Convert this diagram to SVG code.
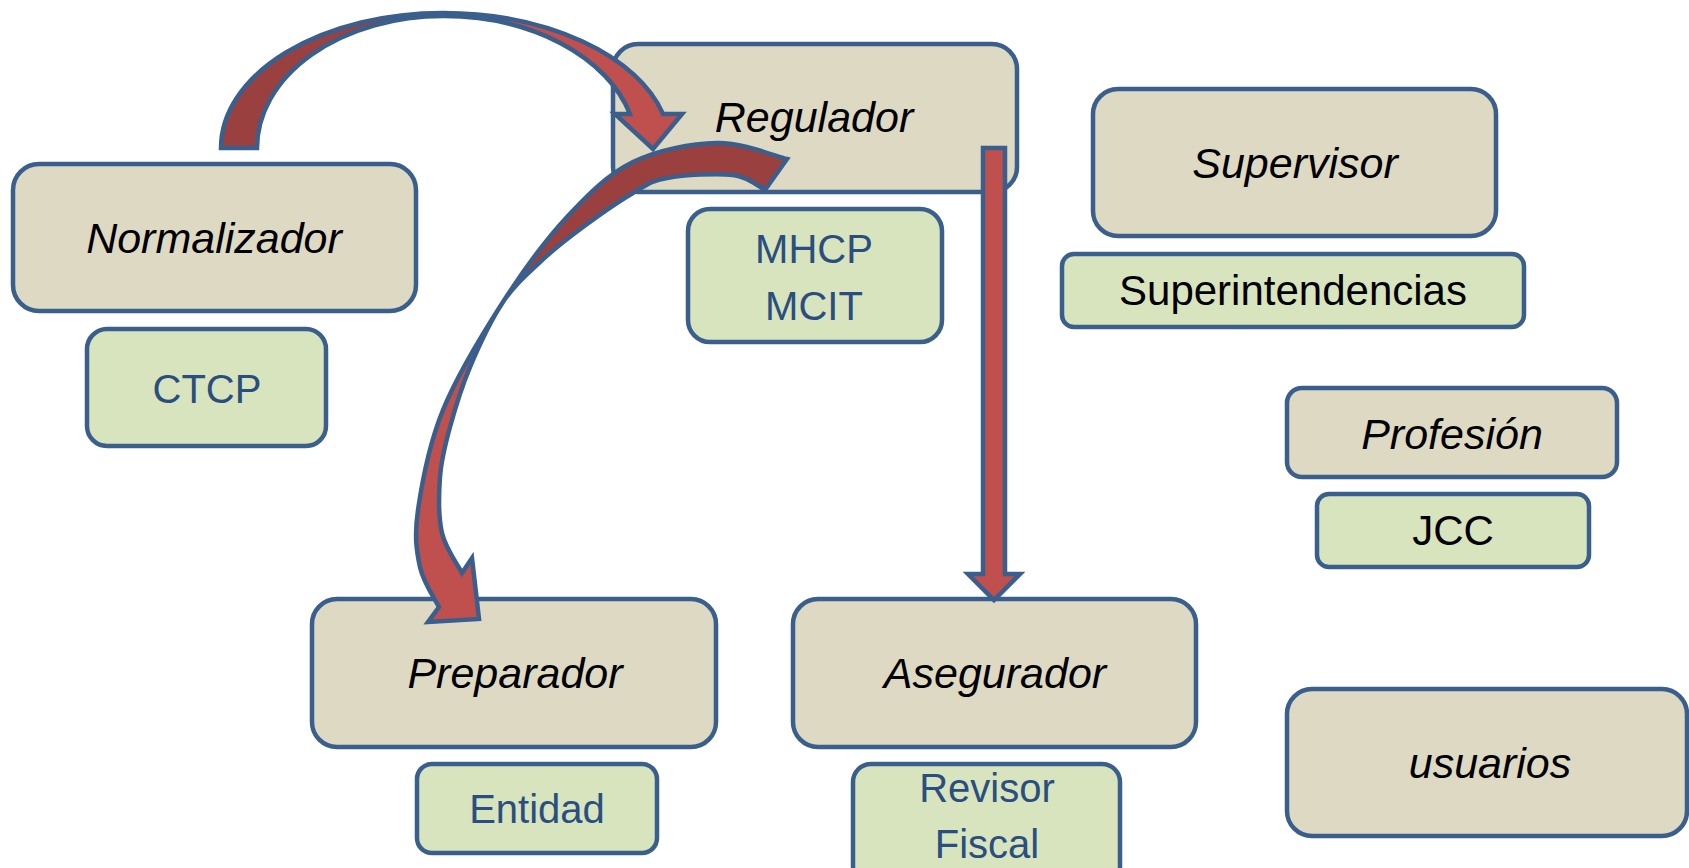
<svg xmlns="http://www.w3.org/2000/svg" width="1689" height="868" viewBox="0 0 1689 868">
  <style>
    .main { fill: #DDD9C3; stroke: #3A5F8D; stroke-width: 4.5; }
    .sub { fill: #D7E4BD; stroke: #3A5F8D; stroke-width: 4.5; }
    .lbl { font-family: "Liberation Sans", Arial, sans-serif; font-style: italic; font-size: 43px; fill: #000; text-anchor: middle; }
    .sl { font-family: "Liberation Sans", Arial, sans-serif; font-size: 40px; fill: #2A4E7F; text-anchor: middle; }
    .sk { font-family: "Liberation Sans", Arial, sans-serif; font-size: 42px; fill: #000; text-anchor: middle; }
    .fL { fill: #C0504D; stroke: none; }
    .fD { fill: #9A403E; stroke: none; }
    .ol { fill: none; stroke: #3A5F8D; stroke-width: 4.5; stroke-linejoin: miter; }
    .arL { fill: #C0504D; stroke: #3A5F8D; stroke-width: 4.5; stroke-linejoin: miter; }
  </style>
  <rect width="1689" height="868" fill="#FFFFFF"/>

  <g id="normalizador">
    <rect class="main" x="13" y="164" width="403" height="147" rx="26"/>
    <text class="lbl" x="214" y="253" font-size="44">Normalizador</text>
  </g>
  <g id="ctcp">
    <rect class="sub" x="87" y="329" width="239" height="117" rx="20"/>
    <text class="sl" x="207" y="403" font-size="36">CTCP</text>
  </g>
  <g id="regulador">
    <rect class="main" x="613" y="44" width="404" height="148" rx="25"/>
    <text class="lbl" x="814" y="132">Regulador</text>
  </g>
  <g id="mhcp-mcit">
    <rect class="sub" x="688" y="209" width="254" height="133" rx="22"/>
    <text class="sl" x="814" y="263">MHCP</text>
    <text class="sl" x="814" y="320">MCIT</text>
  </g>
  <g id="supervisor">
    <rect class="main" x="1093" y="89" width="403" height="147" rx="25"/>
    <text class="lbl" x="1295" y="178">Supervisor</text>
  </g>
  <g id="superintendencias">
    <rect class="sub" x="1062" y="254" width="462" height="73" rx="12"/>
    <text class="sk" x="1293" y="305" font-size="43">Superintendencias</text>
  </g>
  <g id="profesion">
    <rect class="main" x="1287" y="388" width="330" height="89" rx="15"/>
    <text class="lbl" x="1452" y="449" font-size="42">Profesión</text>
  </g>
  <g id="jcc">
    <rect class="sub" x="1317" y="494" width="272" height="73" rx="12"/>
    <text class="sk" x="1453" y="545" font-size="37">JCC</text>
  </g>
  <g id="usuarios">
    <rect class="main" x="1287" y="689" width="400" height="147" rx="25"/>
    <text class="lbl" x="1490" y="778" font-size="42">usuarios</text>
  </g>
  <g id="preparador">
    <rect class="main" x="312" y="599" width="404" height="148" rx="25"/>
    <text class="lbl" x="515" y="688">Preparador</text>
  </g>
  <g id="entidad">
    <rect class="sub" x="417" y="764" width="240" height="89" rx="15"/>
    <text class="sl" x="537" y="823" font-size="42">Entidad</text>
  </g>
  <g id="asegurador">
    <rect class="main" x="793" y="599" width="403" height="148" rx="25"/>
    <text class="lbl" x="995" y="688">Asegurador</text>
  </g>
  <g id="revisor-fiscal">
    <rect class="sub" x="853" y="764" width="267" height="120" rx="18"/>
    <text class="sl" x="987" y="802" font-size="41">Revisor</text>
    <text class="sl" x="987" y="858" font-size="41">Fiscal</text>
  </g>

  <g id="connectors">
    <!-- Normalizador -> Regulador -->
    <g id="arrow-normalizador-regulador">
      <path class="fD" d="M221,148 A222,135 0 0 1 443,13 L443,16 A186,132 0 0 0 257,148 Z"/>
      <path class="fL" d="M443,13 A228,135 0 0 1 663,114 L682,114 L653,149 L615,114 L630,114 A193,133 0 0 0 443,16 Z"/>
      <path class="ol" d="M221,148 A222,135 0 0 1 443,13 A228,135 0 0 1 663,114 L682,114 L653,149 L615,114 L630,114 A193,133 0 0 0 443,16 A186,132 0 0 0 257,148 Z"/>
    </g>
    <!-- Regulador -> Preparador -->
    <g id="arrow-regulador-preparador">
      <path class="fD" d="M787,159 C775.3,156.3 742.7,142.5 717,143 C691.3,143.5 658,149.7 633,162 C608,174.3 588.7,193.7 567,217 C545.3,240.3 523.7,269.8 503,302 C514.7,284.5 526.7,274.5 540,262 C553.3,249.5 567.5,238.5 583,227 C598.5,215.5 619,201.2 633,193 C647,184.8 650.3,181 667,178 C683.7,175 716.7,173 733,175 C749.3,177 759.7,187.5 765,190 Z"/>
      <path class="fL" d="M503,302 C482.3,334.2 457.2,375.3 443,410 C428.8,444.7 421.8,483.8 418,510 C414.2,536.2 416.5,550.8 420,567 C423.5,583.2 435.8,600.3 439,607 L428,622 L479,619 L472,558 L462,573 C458.7,566.3 445.7,549 442,533 C438.3,517 438.7,494.7 440,477 C441.3,459.3 445,445.3 450,427 C455,408.7 461.2,387.8 470,367 C478.8,346.2 491.3,319.5 503,302 Z"/>
      <path class="ol" d="M787,159 C775.3,156.3 742.7,142.5 717,143 C691.3,143.5 658,149.7 633,162 C608,174.3 588.7,193.7 567,217 C545.3,240.3 523.7,269.8 503,302 C482.3,334.2 457.2,375.3 443,410 C428.8,444.7 421.8,483.8 418,510 C414.2,536.2 416.5,550.8 420,567 C423.5,583.2 435.8,600.3 439,607 L428,622 L479,619 L472,558 L462,573 C458.7,566.3 445.7,549 442,533 C438.3,517 438.7,494.7 440,477 C441.3,459.3 445,445.3 450,427 C455,408.7 461.2,387.8 470,367 C478.8,346.2 491.3,319.5 503,302 C514.7,284.5 526.7,274.5 540,262 C553.3,249.5 567.5,238.5 583,227 C598.5,215.5 619,201.2 633,193 C647,184.8 650.3,181 667,178 C683.7,175 716.7,173 733,175 C749.3,177 759.7,187.5 765,190 Z"/>
    </g>
    <!-- Regulador -> Asegurador -->
    <path id="arrow-regulador-asegurador" class="arL" d="M983,148 L1005,148 L1005,574 L1020,574 L994,600 L968,574 L983,574 Z"/>
  </g>
</svg>
